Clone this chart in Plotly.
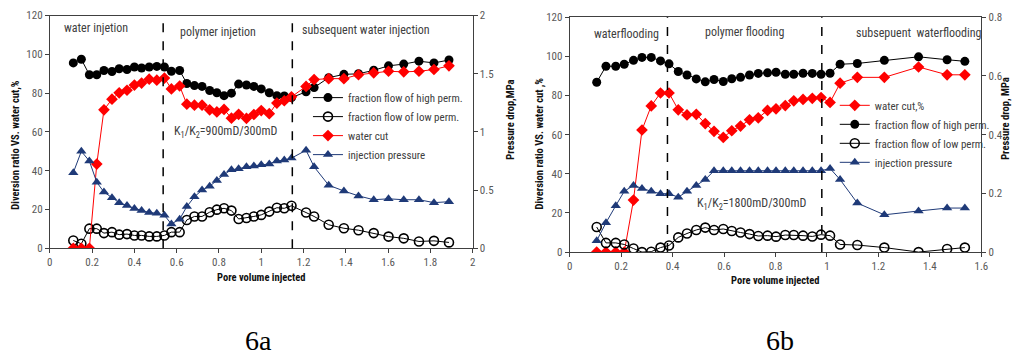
import plotly.graph_objects as go

# ---------------- Figure 6a data ----------------
pv_a = [0.111, 0.149, 0.187, 0.222, 0.256, 0.294, 0.328, 0.365, 0.400, 0.434,
        0.470, 0.506, 0.542, 0.575, 0.614, 0.648, 0.684, 0.720, 0.756, 0.790,
        0.824, 0.859, 0.893, 0.930, 0.965, 1.000, 1.038, 1.074, 1.109, 1.143,
        1.212, 1.250, 1.319, 1.391, 1.460, 1.532, 1.602, 1.674, 1.746, 1.817, 1.888]
high_a = [95.6, 97.5, 89.5, 89.5, 91.7, 91.2, 92.6, 92.2, 93.5, 93.0,
          93.5, 93.8, 93.5, 91.3, 91.7, 85.0, 83.9, 83.5, 81.4, 80.2,
          78.7, 80.0, 84.7, 84.2, 83.5, 82.2, 80.2, 78.7, 78.6, 77.7,
          80.7, 82.9, 88.0, 89.7, 90.0, 91.8, 94.1, 95.0, 96.5, 95.6, 97.1]
low_a = [4.0, 2.3, 10.1, 10.1, 7.8, 8.3, 7.0, 7.3, 6.6, 6.6,
         6.1, 6.1, 6.6, 8.3, 8.3, 14.6, 16.4, 16.4, 18.6, 19.9,
         20.6, 19.4, 15.1, 15.6, 16.4, 17.2, 18.9, 20.9, 20.6, 21.9,
         18.4, 16.4, 12.1, 10.3, 9.3, 7.8, 6.0, 5.1, 3.5, 3.8, 3.0]
wcut_a = [0, 0, 0, 43.4, 71.4, 76.9, 80.2, 81.5, 84.2, 85.2,
          87.2, 86.7, 87.8, 82.2, 83.7, 74.3, 73.8, 73.8, 71.4, 70.3,
          71.6, 67.1, 69.1, 67.0, 69.0, 71.0, 69.4, 74.9, 76.1, 78.1,
          83.5, 87.0, 87.5, 87.5, 89.5, 90.5, 91.3, 91.0, 91.3, 92.2, 94.1]
pres_a = [0.650, 0.833, 0.750, 0.567, 0.483, 0.433, 0.392, 0.367, 0.342, 0.325,
          0.308, 0.300, 0.283, 0.208, 0.250, 0.358, 0.442, 0.500, 0.533, 0.583,
          0.633, 0.675, 0.683, 0.700, 0.708, 0.717, 0.725, 0.750, 0.758, 0.775,
          0.842, 0.700, 0.542, 0.492, 0.450, 0.417, 0.425, 0.417, 0.417, 0.392, 0.400]
stage_a = [0.536, 1.147]

# ---------------- Figure 6b data ----------------
pv_b = [0.105, 0.141, 0.179, 0.212, 0.248, 0.281, 0.317, 0.353, 0.386, 0.422,
        0.456, 0.492, 0.527, 0.561, 0.597, 0.630, 0.664, 0.699, 0.733, 0.769,
        0.802, 0.838, 0.871, 0.907, 0.943, 0.977, 1.012, 1.051, 1.118, 1.223,
        1.356, 1.467, 1.536]
wcut_b = [0, 0, 0, 0, 26.6, 62.4, 74.7, 81.3, 81.3, 72.7,
          70.1, 70.4, 65.7, 61.7, 58.6, 62.0, 64.4, 67.6, 68.6, 72.4,
          73.2, 74.9, 77.3, 78.0, 78.6, 79.0, 76.5, 86.3, 89.3, 89.3,
          94.6, 90.6, 90.6]
high_b = [86.8, 95.0, 95.0, 96.0, 98.0, 99.5, 99.5, 97.7, 96.2, 92.3,
          90.5, 88.5, 87.0, 88.2, 87.2, 88.6, 89.3, 90.5, 91.3, 91.6,
          91.9, 90.9, 90.9, 91.4, 91.3, 90.9, 91.4, 96.0, 96.4, 98.0,
          99.8, 98.3, 97.5]
low_b = [12.8, 4.7, 4.7, 3.9, 1.8, 0.0, 0.2, 2.3, 3.4, 7.5,
         9.5, 11.3, 12.5, 11.3, 11.8, 10.8, 10.0, 9.2, 8.2, 8.4,
         7.9, 8.7, 8.7, 8.4, 8.0, 8.9, 8.4, 3.9, 3.6, 2.3,
         0.0, 1.6, 2.3]
pres_b = [0.039, 0.100, 0.158, 0.207, 0.227, 0.217, 0.207, 0.199, 0.199, 0.187,
          0.207, 0.227, 0.247, 0.277, 0.277, 0.277, 0.277, 0.277, 0.277, 0.277,
          0.277, 0.277, 0.277, 0.277, 0.277, 0.277, 0.285, 0.247, 0.167, 0.127,
          0.140, 0.150, 0.150]
stage_b = [0.380, 0.980]

W, H = 1021, 360
BLACK = "#000000"
RED = "#FF0000"
NAVY = "#1F3A78"
GRAY = "#404040"
FONT = "Liberation Sans Narrow, Roboto Condensed, Arial Narrow, Roboto, sans-serif"

def px_x(p):
    return p / W

def px_y(p):
    return 1 - p / H

fig = go.Figure()

def add_set(x, y, name, color, symbol, xa, ya, legend, open_marker=False):
    marker = dict(symbol=symbol, size=9, color=color)
    if open_marker:
        marker = dict(symbol="circle-open", size=9, color=BLACK, line=dict(width=1.6, color=BLACK))
    fig.add_trace(go.Scatter(x=x, y=y, name=name, mode="lines+markers",
                             line=dict(color=color, width=1), marker=marker,
                             xaxis=xa, yaxis=ya, legend=legend))

# 6a
add_set(pv_a, high_a, "fraction flow of high perm.", BLACK, "circle", "x", "y", "legend")
add_set(pv_a, low_a, "fraction flow of low perm.", BLACK, "circle-open", "x", "y", "legend", open_marker=True)
add_set(pv_a, wcut_a, "water cut", RED, "diamond", "x", "y", "legend")
add_set(pv_a, pres_a, "injection pressure", NAVY, "triangle-up", "x", "y2", "legend")

# 6b
add_set(pv_b, wcut_b, "water cut,%", RED, "diamond", "x2", "y3", "legend2")
add_set(pv_b, high_b, "fraction flow of high perm.", BLACK, "circle", "x2", "y3", "legend2")
add_set(pv_b, low_b, "fraction flow of low perm.", BLACK, "circle-open", "x2", "y3", "legend2", open_marker=True)
add_set(pv_b, pres_b, "injection pressure", NAVY, "triangle-up", "x2", "y4", "legend2")

tickfont = dict(family=FONT, size=11, color="#595959")
ax_common = dict(showline=True, linecolor="#404040", linewidth=1, ticks="outside",
                 ticklen=4, tickcolor="#404040", showgrid=False, zeroline=False,
                 tickfont=tickfont)

shapes = []
for s in stage_a:
    shapes.append(dict(type="line", xref="x", yref="y domain", x0=s, x1=s, y0=0, y1=1,
                       line=dict(color=BLACK, width=1.5, dash="dash")))
for s in stage_b:
    shapes.append(dict(type="line", xref="x2", yref="y3 domain", x0=s, x1=s, y0=0, y1=1,
                       line=dict(color=BLACK, width=1.5, dash="dash")))

def ann(text, x, y, size=12, xanchor="left", angle=0, bold=False, color=GRAY, family=FONT):
    if bold:
        text = "<b>" + text + "</b>"
    return dict(text=text, x=px_x(x), y=px_y(y), xref="paper", yref="paper",
                xanchor=xanchor, yanchor="middle", showarrow=False, textangle=angle,
                font=dict(family=family, size=size, color=color))

annotations = [
    ann("water injetion", 60, 23),
    ann("polymer injetion", 177, 27),
    ann("subsequent water injection", 300, 25),
    ann("K<sub>1</sub>/K<sub>2</sub>=900mD/300mD", 171, 131),
    ann("waterflooding", 595, 29),
    ann("polymer flooding", 707, 27),
    ann("subsepuent  waterflooding", 859, 28),
    ann("K<sub>1</sub>/K<sub>2</sub>=1800mD/300mD", 699, 205),
    ann("Pore volume injected", 261, 282, size=10.5, xanchor="center", bold=True, color="#111"),
    ann("Pore volume injected", 780, 285, size=10.5, xanchor="center", bold=True, color="#111"),
    ann("Diversion ratio VS. water cut,%", 13, 144, size=10.5, xanchor="center", angle=-90, bold=True, color="#111"),
    ann("Pressure drop,MPa", 513, 118, size=10.5, xanchor="center", angle=-90, bold=True, color="#111"),
    ann("Diversion ratio VS. water cut ,%", 542, 143, size=10.5, xanchor="center", angle=-90, bold=True, color="#111"),
    ann("Pressure drop, MPa", 1013, 117, size=10.5, xanchor="center", angle=-90, bold=True, color="#111"),
    ann("6a", 258, 347, size=28, xanchor="center", color=BLACK, family="Liberation Serif, Times New Roman, serif"),
    ann("6b", 785, 347, size=28, xanchor="center", color=BLACK, family="Liberation Serif, Times New Roman, serif"),
]

legfont = dict(family=FONT, size=11, color=GRAY)

fig.update_layout(
    width=W, height=H,
    margin=dict(l=0, r=0, t=0, b=0),
    paper_bgcolor="white", plot_bgcolor="white",
    showlegend=True,
    xaxis=dict(domain=[px_x(47.3), px_x(474.3)], range=[0, 2], dtick=0.2, anchor="y",
               mirror=True, **ax_common),
    yaxis=dict(domain=[px_y(251.3), px_y(10)], range=[0, 120], dtick=20, anchor="x", **ax_common),
    yaxis2=dict(overlaying="y", side="right", anchor="x", range=[0, 2], dtick=0.5, **ax_common),
    xaxis2=dict(domain=[px_x(572.3), px_x(988)], range=[0, 1.6], dtick=0.2, anchor="y3",
                mirror=True, **ax_common),
    yaxis3=dict(domain=[px_y(255.3), px_y(11.7)], range=[0, 120], dtick=20, anchor="x2", **ax_common),
    yaxis4=dict(overlaying="y3", side="right", anchor="x2", range=[0, 0.8], dtick=0.2, **ax_common),
    legend=dict(x=px_x(308), y=px_y(80), xanchor="left", yanchor="top",
                bgcolor="rgba(0,0,0,0)", font=legfont, tracegroupgap=0, itemwidth=30),
    legend2=dict(x=px_x(840), y=px_y(88), xanchor="left", yanchor="top",
                 bgcolor="rgba(0,0,0,0)", font=legfont, tracegroupgap=0, itemwidth=30),
    shapes=shapes,
    annotations=annotations,
)

fig.write_html("out.html")
